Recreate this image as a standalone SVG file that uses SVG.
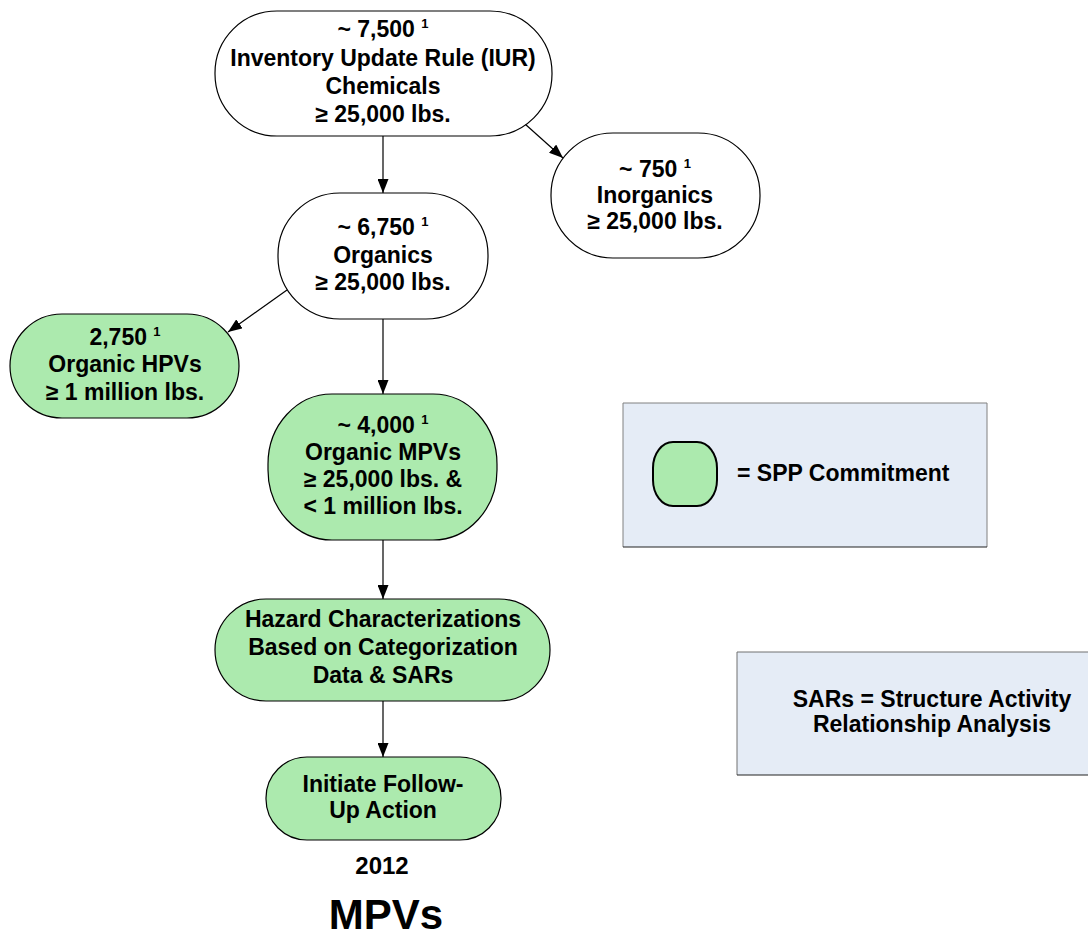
<svg xmlns="http://www.w3.org/2000/svg" width="1088" height="942" viewBox="0 0 1088 942">
  <style>
    .node { stroke: #000; stroke-width: 1.2; }
    .plain { fill: #ffffff; }
    .spp { fill: #aceaae; }
    text { font-family: "Liberation Sans", Arial, sans-serif; font-weight: bold; fill: #000; }
    .lbl { font-size: 23px; text-anchor: middle; }
    .sup { font-size: 13px; }
    .edge { stroke: #000; stroke-width: 1.2; fill: none; marker-end: url(#arrow); }
    .legend { fill: #e5ecf6; }
  </style>
  <defs>
    <marker id="arrow" viewBox="0 0 14 11" refX="14" refY="5.5" markerWidth="14" markerHeight="11" markerUnits="userSpaceOnUse" orient="auto">
      <path d="M0,0 L14,5.5 L0,11 z" fill="#000"/>
    </marker>
  </defs>
  <rect width="1088" height="942" fill="#ffffff"/>

  <!-- connectors -->
  <g id="connectors">
    <line class="edge" x1="383" y1="136" x2="383" y2="193"/>
    <line class="edge" x1="525" y1="124" x2="563" y2="158"/>
    <line class="edge" x1="287" y1="290" x2="228" y2="332"/>
    <line class="edge" x1="383" y1="319" x2="383" y2="394"/>
    <line class="edge" x1="383" y1="540" x2="383" y2="599"/>
    <line class="edge" x1="383" y1="701" x2="383" y2="757"/>
  </g>

  <!-- inventory update rule chemicals -->
  <g id="iur">
    <rect class="node plain" x="215" y="11" width="337" height="125" rx="62" ry="62"/>
    <text class="lbl" x="383" y="37">~ 7,500 <tspan class="sup" dy="-9">1</tspan></text>
    <text class="lbl" x="383" y="66">Inventory Update Rule (IUR)</text>
    <text class="lbl" x="383" y="94">Chemicals</text>
    <text class="lbl" x="383" y="122">≥ 25,000 lbs.</text>
  </g>

  <!-- inorganics -->
  <g id="inorganics">
    <rect class="node plain" x="551" y="133" width="209" height="125" rx="62" ry="62"/>
    <text class="lbl" x="655" y="177">~ 750 <tspan class="sup" dy="-9">1</tspan></text>
    <text class="lbl" x="655" y="203">Inorganics</text>
    <text class="lbl" x="655" y="229">≥ 25,000 lbs.</text>
  </g>

  <!-- organics -->
  <g id="organics">
    <rect class="node plain" x="278" y="193" width="210" height="126" rx="62" ry="62"/>
    <text class="lbl" x="383" y="235">~ 6,750 <tspan class="sup" dy="-9">1</tspan></text>
    <text class="lbl" x="383" y="263">Organics</text>
    <text class="lbl" x="383" y="290">≥ 25,000 lbs.</text>
  </g>

  <!-- organic HPVs -->
  <g id="hpvs">
    <rect class="node spp" x="10" y="314" width="229" height="104" rx="52" ry="52"/>
    <text class="lbl" x="125" y="345">2,750 <tspan class="sup" dy="-9">1</tspan></text>
    <text class="lbl" x="125" y="372">Organic HPVs</text>
    <text class="lbl" x="125" y="400">≥ 1 million lbs.</text>
  </g>

  <!-- organic MPVs -->
  <g id="mpvs">
    <rect class="node spp" x="268" y="394" width="229" height="146" rx="64" ry="70"/>
    <text class="lbl" x="383" y="433">~ 4,000 <tspan class="sup" dy="-9">1</tspan></text>
    <text class="lbl" x="383" y="460">Organic MPVs</text>
    <text class="lbl" x="383" y="487">≥ 25,000 lbs. &amp;</text>
    <text class="lbl" x="383" y="514">&lt; 1 million lbs.</text>
  </g>

  <!-- hazard characterizations -->
  <g id="hazard">
    <rect class="node spp" x="215" y="599" width="335" height="102" rx="51" ry="51"/>
    <text class="lbl" x="383" y="627">Hazard Characterizations</text>
    <text class="lbl" x="383" y="655">Based on Categorization</text>
    <text class="lbl" x="383" y="683">Data &amp; SARs</text>
  </g>

  <!-- follow-up action -->
  <g id="followup">
    <rect class="node spp" x="266" y="757" width="235" height="83" rx="41" ry="41"/>
    <text class="lbl" x="383" y="792">Initiate Follow-</text>
    <text class="lbl" x="383" y="818">Up Action</text>
  </g>

  <!-- year and title -->
  <g id="caption">
    <text x="382" y="874" style="font-size:24px; text-anchor:middle;">2012</text>
    <text x="386" y="929" style="font-size:42px; text-anchor:middle;">MPVs</text>
  </g>

  <!-- legend: SPP commitment -->
  <g id="legend-spp">
    <rect class="legend" x="623" y="403" width="364" height="144"/>
    <path d="M623,547 V403 H987 V547" fill="none" stroke="#808080" stroke-width="1"/>
    <line x1="623" y1="547" x2="987" y2="547" stroke="#222" stroke-width="1.2"/>
    <rect x="653" y="442" width="64" height="64" rx="20" ry="26" fill="#aceaae" stroke="#000" stroke-width="2"/>
    <text x="737" y="481" style="font-size:23px;">= SPP Commitment</text>
  </g>

  <!-- legend: SARs definition -->
  <g id="legend-sars">
    <rect class="legend" x="737" y="652" width="352" height="123"/>
    <path d="M737,775 V652 H1089" fill="none" stroke="#707070" stroke-width="1"/>
    <line x1="737" y1="775" x2="1089" y2="775" stroke="#222" stroke-width="1.2"/>
    <text x="932" y="707" style="font-size:23px; text-anchor:middle;">SARs = Structure Activity</text>
    <text x="932" y="732" style="font-size:23px; text-anchor:middle;">Relationship Analysis</text>
  </g>
</svg>
